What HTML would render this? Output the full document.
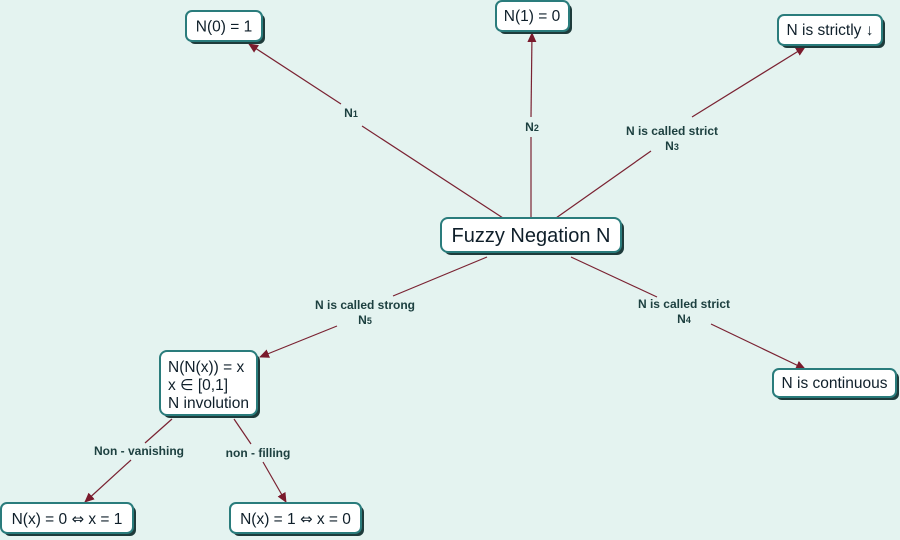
<!DOCTYPE html>
<html><head><meta charset="utf-8"><style>
html,body{margin:0;padding:0;background:#e4f3f0;}
svg{display:block;}
.bt{font-family:"Liberation Sans",sans-serif;font-size:15.5px;fill:#0f1f2a;}
.lb{font-family:"Liberation Sans",sans-serif;font-size:12px;font-weight:bold;fill:#1d4040;text-anchor:middle;}
.ln{stroke:#7a2232;stroke-width:1.2;fill:none;}
.eq{font-family:"DejaVu Sans",sans-serif;font-size:15px;}
</style></head><body>
<svg width="900" height="540" viewBox="0 0 900 540" xmlns="http://www.w3.org/2000/svg">
<defs>
<marker id="ar" viewBox="0 0 10 10" refX="9" refY="5" markerWidth="10" markerHeight="10" markerUnits="userSpaceOnUse" orient="auto">
<path d="M0,0.5 L10,5 L0,9.5 Z" fill="#7a1a2c"/>
</marker>
</defs>
<rect width="900" height="540" fill="#e4f3f0"/>

<!-- connectors -->
<g class="ln">
<line x1="503" y1="218" x2="362" y2="126"/>
<line x1="341" y1="104" x2="249" y2="44" marker-end="url(#ar)"/>
<line x1="531" y1="218" x2="531" y2="137"/>
<line x1="531" y1="117" x2="532" y2="33" marker-end="url(#ar)"/>
<line x1="556" y1="218" x2="651" y2="151"/>
<line x1="692" y1="117" x2="805" y2="47" marker-end="url(#ar)"/>
<line x1="571" y1="257" x2="657" y2="297"/>
<line x1="711" y1="324" x2="805" y2="369" marker-end="url(#ar)"/>
<line x1="487" y1="257" x2="393" y2="296"/>
<line x1="337" y1="326" x2="260" y2="357" marker-end="url(#ar)"/>
<line x1="172" y1="419" x2="145" y2="443"/>
<line x1="131" y1="460" x2="85" y2="502" marker-end="url(#ar)"/>
<line x1="234" y1="419" x2="251" y2="444"/>
<line x1="263" y1="462" x2="286" y2="502" marker-end="url(#ar)"/>
</g>

<!-- labels -->
<text class="lb" x="351" y="117">N<tspan font-size="9">1</tspan></text>
<text class="lb" x="532" y="131">N<tspan font-size="9">2</tspan></text>
<text class="lb" x="672" y="135">N is called strict</text>
<text class="lb" x="672" y="150">N<tspan font-size="9">3</tspan></text>
<text class="lb" x="684" y="308">N is called strict</text>
<text class="lb" x="684" y="323">N<tspan font-size="9">4</tspan></text>
<text class="lb" x="365" y="309">N is called strong</text>
<text class="lb" x="365" y="324">N<tspan font-size="9">5</tspan></text>
<text class="lb" x="139" y="455">Non - vanishing</text>
<text class="lb" x="258" y="457">non - filling</text>

<!-- boxes -->
<g>
<rect x="189" y="14" width="76" height="30" rx="6" fill="#1e3b3b"/>
<rect x="186" y="11" width="76" height="30" rx="6" fill="#fff" stroke="#2a7c7c" stroke-width="2"/>
<text class="bt" x="224" y="31.5" text-anchor="middle">N(0) = 1</text>

<rect x="499" y="4" width="73" height="30" rx="6" fill="#1e3b3b"/>
<rect x="496" y="1" width="73" height="30" rx="6" fill="#fff" stroke="#2a7c7c" stroke-width="2"/>
<text class="bt" x="532" y="21" text-anchor="middle">N(1) = 0</text>

<rect x="781" y="18" width="104" height="30" rx="6" fill="#1e3b3b"/>
<rect x="778" y="15" width="104" height="30" rx="6" fill="#fff" stroke="#2a7c7c" stroke-width="2"/>
<text class="bt" x="830" y="35" text-anchor="middle">N is strictly ↓</text>

<rect x="444" y="221" width="180" height="34" rx="7" fill="#1e3b3b"/>
<rect x="441" y="218" width="180" height="34" rx="7" fill="#fff" stroke="#2a7c7c" stroke-width="2"/>
<text class="bt" x="531" y="242" text-anchor="middle" style="font-size:20px">Fuzzy Negation N</text>

<rect x="163" y="354" width="97" height="64" rx="7" fill="#1e3b3b"/>
<rect x="160" y="351" width="97" height="64" rx="7" fill="#fff" stroke="#2a7c7c" stroke-width="2"/>
<text class="bt" x="168" y="372">N(N(x)) = x</text>
<text class="bt" x="168" y="390">x ∈ [0,1]</text>
<text class="bt" x="168" y="408">N involution</text>

<rect x="776" y="372" width="123" height="28" rx="6" fill="#1e3b3b"/>
<rect x="773" y="369" width="123" height="28" rx="6" fill="#fff" stroke="#2a7c7c" stroke-width="2"/>
<text class="bt" x="834.5" y="388" text-anchor="middle">N is continuous</text>

<rect x="4" y="506" width="132" height="30" rx="6" fill="#1e3b3b"/>
<rect x="1" y="503" width="132" height="30" rx="6" fill="#fff" stroke="#2a7c7c" stroke-width="2"/>
<text class="bt" x="67" y="524" text-anchor="middle">N(x) = 0 <tspan class="eq">⇔</tspan> x = 1</text>

<rect x="233" y="506" width="131" height="30" rx="6" fill="#1e3b3b"/>
<rect x="230" y="503" width="131" height="30" rx="6" fill="#fff" stroke="#2a7c7c" stroke-width="2"/>
<text class="bt" x="295.5" y="524" text-anchor="middle">N(x) = 1 <tspan class="eq">⇔</tspan> x = 0</text>
</g>
</svg>
</body></html>
